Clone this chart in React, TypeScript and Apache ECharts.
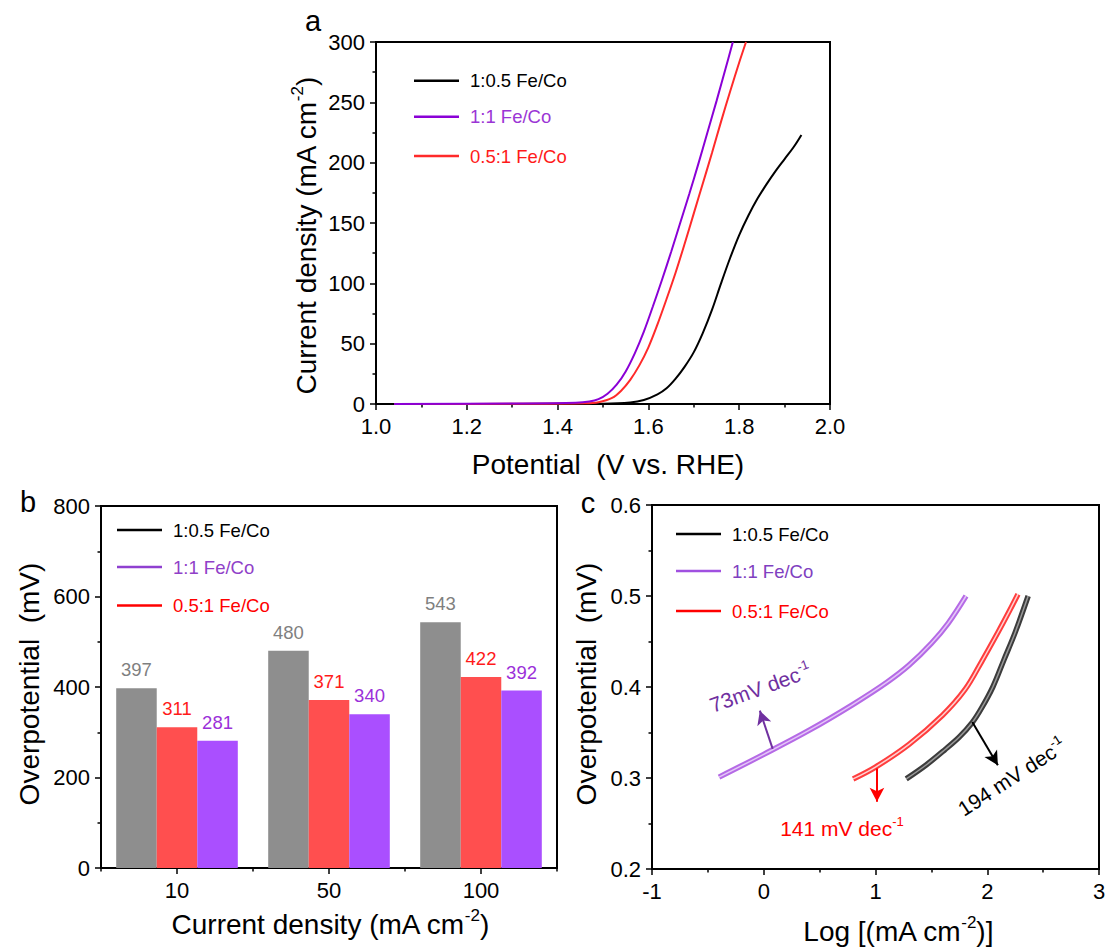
import React, { useEffect, useRef } from 'react';
import * as echarts from 'echarts';

const FONT = 'Arial, "Liberation Sans", Helvetica, sans-serif';

const seriesNames = ['1:0.5 Fe/Co', '1:1 Fe/Co', '0.5:1 Fe/Co'];

// ---------- Panel a: LSV curves [potential V vs RHE, current density mA cm-2]
const lsvBlack = [
  [1.04, 0], [1.3, 0.1], [1.5, 0.3], [1.56, 1.2], [1.59, 3.3], [1.62, 8], [1.64, 13],
  [1.66, 21], [1.68, 31], [1.70, 43], [1.72, 59], [1.74, 78], [1.76, 100], [1.78, 121],
  [1.80, 140], [1.82, 156], [1.84, 170], [1.86, 182], [1.88, 193], [1.90, 203],
  [1.92, 213], [1.937, 223],
];
const lsvPurple = [
  [1.04, 0], [1.3, 0.4], [1.44, 1], [1.47, 2], [1.49, 4], [1.51, 8.5], [1.53, 16],
  [1.55, 27], [1.57, 42], [1.59, 60], [1.61, 81], [1.63, 103], [1.65, 126], [1.67, 150],
  [1.69, 174], [1.71, 199], [1.73, 225], [1.75, 251], [1.77, 278], [1.786, 300],
];
const lsvRed = [
  [1.04, 0], [1.3, 0.2], [1.46, 0.6], [1.49, 1.5], [1.52, 5], [1.54, 11], [1.56, 20],
  [1.58, 32], [1.60, 47], [1.62, 66], [1.64, 87], [1.66, 109], [1.68, 133], [1.70, 158],
  [1.72, 183], [1.74, 208], [1.76, 234], [1.78, 259], [1.80, 283], [1.815, 300],
];

// ---------- Panel b: overpotential (mV) at current densities
const currentDensities = ['10', '50', '100'];
const overBlack = [397, 480, 543];
const overRed = [311, 371, 422];
const overPurple = [281, 340, 392];

// ---------- Panel c: Tafel curves [log j, overpotential]
const tafelPurple = [
  [-0.40, 0.301], [0.0, 0.326], [0.4, 0.352], [0.8, 0.381], [1.1, 0.405], [1.3, 0.424],
  [1.5, 0.448], [1.65, 0.470], [1.81, 0.50],
];
const tafelRed = [
  [0.80, 0.299], [1.0, 0.312], [1.3, 0.337], [1.6, 0.369], [1.8, 0.397], [1.95, 0.428],
  [2.1, 0.461], [2.2, 0.484], [2.275, 0.502],
];
const tafelBlack = [
  [1.275, 0.299], [1.45, 0.314], [1.62, 0.331], [1.75, 0.345], [1.866, 0.361],
  [1.95, 0.377], [2.05, 0.400], [2.15, 0.430], [2.25, 0.460], [2.366, 0.50],
];
// arrows [from, to] in data coords
const arrowPurple = [[0.08, 0.332], [-0.035, 0.374]];
const arrowRed = [[1.013, 0.3105], [1.013, 0.274]];
const arrowBlack = [[1.866, 0.3616], [2.095, 0.314]];
// slope notes: [value, center x, center y, rotation deg]
const tafelSlopes = [
  { value: '73mV dec', x: -0.03, y: 0.399, rot: 20, color: '#7030a0' },
  { value: '141 mV dec', x: 0.70, y: 0.245, rot: 0, color: '#ff0000' },
  { value: '194 mV dec', x: 2.22, y: 0.301, rot: 33, color: '#000000' },
];

const C_BLACK = '#000000';
const C_PURPLE = '#8a00d6';
const C_RED = '#ff2a2a';

const tickStyle = { color: '#000', width: 1.5 };
const TICK_FS = 22;

function valueAxis(gridIndex: number, min: number, max: number, interval: number, dec: number, extra: any = {}) {
  return {
    type: 'value', gridIndex, min, max, interval,
    axisLine: { show: true, onZero: false, lineStyle: { color: '#000', width: 2 } },
    axisTick: { show: true, length: 6, lineStyle: tickStyle },
    minorTick: { show: true, splitNumber: 2, length: 3.5, lineStyle: tickStyle },
    splitLine: { show: false },
    minorSplitLine: { show: false },
    axisLabel: {
      color: '#000', fontSize: TICK_FS, fontFamily: FONT, margin: 11,
      formatter: (v: number) => v.toFixed(dec),
    },
    ...extra,
  };
}

function supText(pre: string, sup: string, post: string, size: number, color: string) {
  return {
    text: `{b|${pre}}{s|${sup}}{b|${post}}`,
    rich: {
      b: { fontSize: size, fontFamily: FONT, fill: color, color, lineHeight: size * 1.25 },
      s: { fontSize: Math.round(size * 0.6), fontFamily: FONT, fill: color, color, lineHeight: size * 0.75, verticalAlign: 'top' },
    },
  };
}

function legendBlock(x0: number, ys: number[], lineColors: string[], textColors: string[]) {
  const els: any[] = [];
  seriesNames.forEach((n, i) => {
    els.push({
      type: 'line', shape: { x1: x0, y1: ys[i], x2: x0 + 45, y2: ys[i] },
      style: { stroke: lineColors[i], lineWidth: 2.5 }, silent: true,
    });
    els.push({
      type: 'text', x: x0 + 56, y: ys[i],
      style: { text: n, fill: textColors[i], font: `18.5px ${FONT}`, align: 'left', verticalAlign: 'middle' },
      silent: true,
    });
  });
  return els;
}

const lineCommon = { smooth: 0.35, showSymbol: false };

function buildOption() {
  return {
    animation: false,
    backgroundColor: '#ffffff',
    textStyle: { fontFamily: FONT },
    grid: [
      { left: 376, top: 42, width: 454, height: 362, show: true, borderColor: '#000', borderWidth: 2 },
      { left: 101, top: 506, width: 456, height: 362, show: true, borderColor: '#000', borderWidth: 2 },
      { left: 652, top: 505, width: 447, height: 364, show: true, borderColor: '#000', borderWidth: 2 },
    ],
    xAxis: [
      valueAxis(0, 1, 2, 0.2, 1),
      {
        type: 'category', gridIndex: 1, data: currentDensities, position: 'bottom',
        axisLine: { show: true, lineStyle: { color: '#000', width: 2 } },
        axisTick: { show: true, alignWithLabel: true, length: 6, lineStyle: tickStyle },
        axisLabel: { color: '#000', fontSize: TICK_FS, fontFamily: FONT, margin: 11 },
        splitLine: { show: false },
      },
      {
        type: 'category', gridIndex: 1, data: currentDensities, position: 'bottom', offset: 0,
        axisLine: { show: false },
        axisTick: { show: true, length: 3.5, lineStyle: tickStyle },
        axisLabel: { show: false },
        splitLine: { show: false },
      },
      valueAxis(2, -1, 3, 1, 0, { axisLabel: { color: '#000', fontSize: TICK_FS, fontFamily: FONT, margin: 11, formatter: (v: number) => String(Math.round(v)) } }),
    ],
    yAxis: [
      valueAxis(0, 0, 300, 50, 0),
      valueAxis(1, 0, 800, 200, 0),
      valueAxis(2, 0.2, 0.6, 0.1, 1),
    ],
    series: [
      // panel a
      { type: 'line', name: seriesNames[0], xAxisIndex: 0, yAxisIndex: 0, data: lsvBlack, ...lineCommon, lineStyle: { color: C_BLACK, width: 2 }, itemStyle: { color: C_BLACK } },
      { type: 'line', name: seriesNames[2], xAxisIndex: 0, yAxisIndex: 0, data: lsvRed, ...lineCommon, lineStyle: { color: C_RED, width: 2 }, itemStyle: { color: C_RED } },
      { type: 'line', name: seriesNames[1], xAxisIndex: 0, yAxisIndex: 0, data: lsvPurple, ...lineCommon, lineStyle: { color: C_PURPLE, width: 2 }, itemStyle: { color: C_PURPLE } },
      // panel b
      {
        type: 'bar', name: seriesNames[0], xAxisIndex: 1, yAxisIndex: 1, data: overBlack,
        barGap: '0%', barCategoryGap: '20%', itemStyle: { color: '#8e8e8e' },
        label: { show: true, position: 'top', distance: 9, color: '#7f7f7f', fontSize: 18.5, fontFamily: FONT },
      },
      {
        type: 'bar', name: seriesNames[2], xAxisIndex: 1, yAxisIndex: 1, data: overRed,
        barGap: '0%', barCategoryGap: '20%', itemStyle: { color: '#ff4f4f' },
        label: { show: true, position: 'top', distance: 9, color: '#ff1a1a', fontSize: 18.5, fontFamily: FONT },
      },
      {
        type: 'bar', name: seriesNames[1], xAxisIndex: 1, yAxisIndex: 1, data: overPurple,
        barGap: '0%', barCategoryGap: '20%', itemStyle: { color: '#aa4fff' },
        label: { show: true, position: 'top', distance: 9, color: '#9b30d9', fontSize: 18.5, fontFamily: FONT },
      },
      // panel c (outer + inner strokes mimic hollow markers)
      { type: 'line', name: seriesNames[1], xAxisIndex: 3, yAxisIndex: 2, data: tafelPurple, ...lineCommon, lineStyle: { color: '#b56ae6', width: 5.5 }, itemStyle: { color: '#b56ae6' } },
      {
        type: 'line', name: seriesNames[1], xAxisIndex: 3, yAxisIndex: 2, data: tafelPurple, ...lineCommon, lineStyle: { color: '#e4c6f7', width: 1.5 }, itemStyle: { color: '#e4c6f7' },
        markLine: { silent: true, symbol: ['none', 'arrow'], symbolSize: [11, 14], label: { show: false }, lineStyle: { color: '#7030a0', width: 2, type: 'solid' }, data: [[{ coord: arrowPurple[0] }, { coord: arrowPurple[1] }]] },
      },
      { type: 'line', name: seriesNames[2], xAxisIndex: 3, yAxisIndex: 2, data: tafelRed, ...lineCommon, lineStyle: { color: '#ff3d3d', width: 5.5 }, itemStyle: { color: '#ff3d3d' } },
      {
        type: 'line', name: seriesNames[2], xAxisIndex: 3, yAxisIndex: 2, data: tafelRed, ...lineCommon, lineStyle: { color: '#ffd0d0', width: 1.5 }, itemStyle: { color: '#ffd0d0' },
        markLine: { silent: true, symbol: ['none', 'arrow'], symbolSize: [11, 14], label: { show: false }, lineStyle: { color: '#ff0000', width: 2, type: 'solid' }, data: [[{ coord: arrowRed[0] }, { coord: arrowRed[1] }]] },
      },
      { type: 'line', name: seriesNames[0], xAxisIndex: 3, yAxisIndex: 2, data: tafelBlack, ...lineCommon, lineStyle: { color: '#3c3c3c', width: 5.5 }, itemStyle: { color: '#3c3c3c' } },
      {
        type: 'line', name: seriesNames[0], xAxisIndex: 3, yAxisIndex: 2, data: tafelBlack, ...lineCommon, lineStyle: { color: '#9a9a9a', width: 1.5 }, itemStyle: { color: '#9a9a9a' },
        markLine: { silent: true, symbol: ['none', 'arrow'], symbolSize: [11, 14], label: { show: false }, lineStyle: { color: '#000000', width: 2, type: 'solid' }, data: [[{ coord: arrowBlack[0] }, { coord: arrowBlack[1] }]] },
      },
    ],
  };
}

function buildGraphics(chart: any) {
  const els: any[] = [];
  const T = 28;
  // panel letters
  els.push({ type: 'text', x: 313, y: 21, style: { text: 'a', font: `29px ${FONT}`, fill: '#000', align: 'center', verticalAlign: 'middle' } });
  els.push({ type: 'text', x: 28, y: 502, style: { text: 'b', font: `29px ${FONT}`, fill: '#000', align: 'center', verticalAlign: 'middle' } });
  els.push({ type: 'text', x: 588, y: 503, style: { text: 'c', font: `29px ${FONT}`, fill: '#000', align: 'center', verticalAlign: 'middle' } });
  // axis titles
  els.push({ type: 'text', x: 306, y: 236, rotation: Math.PI / 2, style: { ...supText('Current density (mA cm', '-2', ')', T, '#000'), align: 'center', verticalAlign: 'middle' } });
  els.push({ type: 'text', x: 608, y: 464, style: { text: 'Potential  (V vs. RHE)', font: `${T}px ${FONT}`, fill: '#000', align: 'center', verticalAlign: 'middle' } });
  els.push({ type: 'text', x: 29, y: 684, rotation: Math.PI / 2, style: { text: 'Overpotential  (mV)', font: `${T}px ${FONT}`, fill: '#000', align: 'center', verticalAlign: 'middle' } });
  els.push({ type: 'text', x: 330, y: 924, style: { ...supText('Current density (mA cm', '-2', ')', T, '#000'), align: 'center', verticalAlign: 'middle' } });
  els.push({ type: 'text', x: 586, y: 684, rotation: Math.PI / 2, style: { text: 'Overpotential  (mV)', font: `${T}px ${FONT}`, fill: '#000', align: 'center', verticalAlign: 'middle' } });
  els.push({ type: 'text', x: 898, y: 931, style: { ...supText('Log [(mA cm', '-2', ')]', T, '#000'), align: 'center', verticalAlign: 'middle' } });
  // legends
  els.push(...legendBlock(414, [80.7, 116.7, 156], ['#000', C_PURPLE, C_RED], ['#000', '#9b35d5', '#ff1a1a']));
  els.push(...legendBlock(117, [530, 567, 605.5], ['#000', '#8f40d0', '#ff0000'], ['#000', '#9040c8', '#ff0000']));
  els.push(...legendBlock(676, [534, 571, 611], ['#000', '#a050e0', '#ff0000'], ['#000', '#8040c0', '#ff0000']));
  // slope notes in panel c
  tafelSlopes.forEach((s) => {
    const p = chart.convertToPixel({ gridIndex: 2 }, [s.x, s.y]);
    els.push({
      type: 'text', x: p[0], y: p[1], rotation: (s.rot * Math.PI) / 180,
      style: { ...supText(s.value, '-1', '', 21, s.color), align: 'center', verticalAlign: 'middle' },
    });
  });
  return els;
}

export default function App() {
  const ref = useRef<HTMLDivElement>(null);
  useEffect(() => {
    const chart = echarts.init(ref.current!, null, { renderer: 'svg' });
    chart.setOption(buildOption() as any);
    chart.setOption({ graphic: buildGraphics(chart) } as any);
    return () => chart.dispose();
  }, []);
  return (
    <div
      ref={ref}
      style={{ position: 'fixed', left: 0, top: 0, width: 1110, height: 947, background: '#fff' }}
    />
  );
}
